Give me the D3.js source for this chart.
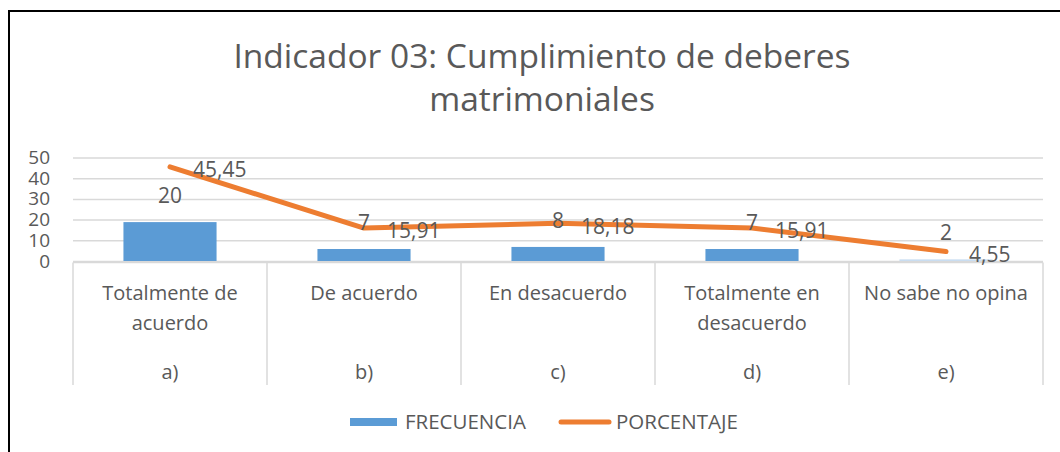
<!DOCTYPE html>
<html>
<head>
<meta charset="utf-8">
<title>Indicador 03</title>
<script src="https://cdn.jsdelivr.net/npm/d3@7"></script>
<style>
    html, body { margin: 0; padding: 0; background: #fff; }
    svg { display: block; }
    text { font-family: "Open Sans", "Noto Sans", sans-serif; fill: #595959; }
</style>
</head>
<body>
<svg id="chart" width="1060" height="452"></svg>
<script>
// chart data
var categories = ["Totalmente de acuerdo", "De acuerdo", "En desacuerdo", "Totalmente en desacuerdo", "No sabe no opina"];
var categoryLines = [["Totalmente de", "acuerdo"], ["De acuerdo"], ["En desacuerdo"], ["Totalmente en", "desacuerdo"], ["No sabe no opina"]];
var letters = ["a)", "b)", "c)", "d)", "e)"];
var frecuencia = [20, 7, 8, 7, 2];
var porcentaje = [45.45, 15.91, 18.18, 15.91, 4.55];
var percentLabels = ["45,45", "15,91", "18,18", "15,91", "4,55"];
var yTicks = [0, 10, 20, 30, 40, 50];
var titleLines = ["Indicador 03: Cumplimiento de deberes", "matrimoniales"];
var seriesNames = ["FRECUENCIA", "PORCENTAJE"];

function drawChart() {

    'use strict';

    /*global d3*/

    var svg = d3.select("#chart"),
        blue = "#5b9bd5",
        orange = "#ed7d31",
        gridColor = "#d9d9d9",
        left = 73,
        right = 1043,
        top = 157.5,
        bottom = 261,
        catBottom = 385,
        x,
        y,
        line,
        legend;

    x = d3.scaleBand().domain(categories).range([left, right]);
    y = d3.scaleLinear().domain([0, 50]).range([bottom, top]);

    // outer frame (only top and left edges are inside the picture)
    svg.append("path")
        .attr("d", "M9,452V11H1060")
        .attr("fill", "none")
        .attr("stroke", "#000")
        .attr("stroke-width", 2);

    // title
    svg.append("g").selectAll("text")
        .data(titleLines)
        .enter()
        .append("text")
        .attr("x", 542)
        .attr("y", function (d, i) { return 68 + i * 43; })
        .attr("text-anchor", "middle")
        .style("font-size", "33.5px")
        .text(function (d) { return d; });

    // horizontal gridlines and y tick labels
    svg.append("g")
        .attr("transform", "translate(" + left + ",0)")
        .call(d3.axisLeft(y).tickValues(yTicks).tickSize(-(right - left)).tickPadding(23))
        .call(function (g) {
            g.select(".domain").remove();
            g.selectAll(".tick line").attr("stroke", gridColor).attr("stroke-width", 1.5);
            g.selectAll(".tick text")
                .attr("fill", "#595959")
                .style("font-size", "19px")
                .style("font-family", "\"Open Sans\", sans-serif");
        });

    // category axis box: baseline and separators
    svg.append("line")
        .attr("x1", left).attr("x2", right)
        .attr("y1", bottom + 1.5).attr("y2", bottom + 1.5)
        .attr("stroke", gridColor).attr("stroke-width", 1.5);
    svg.append("g").selectAll("line")
        .data(categories.concat(["end"]))
        .enter()
        .append("line")
        .attr("x1", function (d, i) { return left + i * x.bandwidth(); })
        .attr("x2", function (d, i) { return left + i * x.bandwidth(); })
        .attr("y1", bottom + 1.5)
        .attr("y2", catBottom)
        .attr("stroke", gridColor)
        .attr("stroke-width", 1.5);

    // category labels
    categories.forEach(function (c, i) {
        var cx = x(c) + x.bandwidth() / 2;
        categoryLines[i].forEach(function (t, j) {
            svg.append("text")
                .attr("x", cx)
                .attr("y", 300 + j * 30)
                .attr("text-anchor", "middle")
                .style("font-size", "20px")
                .text(t);
        });
        svg.append("text")
            .attr("x", cx)
            .attr("y", 379)
            .attr("text-anchor", "middle")
            .style("font-size", "20px")
            .text(letters[i]);
    });

    // bars (their tops sit a little under the value, as in the source chart)
    svg.append("g").selectAll("rect")
        .data(frecuencia)
        .enter()
        .append("rect")
        .attr("x", function (d, i) { return x(categories[i]) + x.bandwidth() * 0.26; })
        .attr("width", x.bandwidth() * 0.48)
        .attr("y", function (d) { return y(d) + 2.5; })
        .attr("height", function (d) { return Math.max(1, bottom - y(d) - 2.5); })
        .attr("fill", function (d) { return d < 3 ? "#c9ddf1" : blue; });

    // percentage line
    line = d3.line()
        .x(function (d, i) { return x(categories[i]) + x.bandwidth() / 2; })
        .y(function (d) { return y(d); });
    svg.append("path")
        .datum(porcentaje)
        .attr("d", line)
        .attr("fill", "none")
        .attr("stroke", orange)
        .attr("stroke-width", 5)
        .attr("stroke-linejoin", "round")
        .attr("stroke-linecap", "round");

    // bar value labels
    svg.append("g").selectAll("text")
        .data(frecuencia)
        .enter()
        .append("text")
        .attr("x", function (d, i) { return x(categories[i]) + x.bandwidth() / 2; })
        .attr("y", function (d) { return y(d) - 24; })
        .attr("dy", "0.35em")
        .attr("text-anchor", "middle")
        .style("font-size", "21px")
        .text(function (d) { return d; });

    // percentage value labels
    svg.append("g").selectAll("text")
        .data(porcentaje)
        .enter()
        .append("text")
        .attr("x", function (d, i) { return x(categories[i]) + x.bandwidth() / 2 + 23; })
        .attr("y", function (d) { return y(d) + 3; })
        .attr("dy", "0.35em")
        .style("font-size", "21px")
        .text(function (d, i) { return percentLabels[i]; });

    // legend
    legend = svg.append("g").attr("transform", "translate(0,422)");
    legend.append("rect")
        .attr("x", 350).attr("y", -4)
        .attr("width", 47).attr("height", 8)
        .attr("fill", blue);
    legend.append("text")
        .attr("x", 405).attr("dy", "0.35em")
        .style("font-size", "20.5px")
        .text(seriesNames[0]);
    legend.append("line")
        .attr("x1", 561).attr("x2", 609)
        .attr("stroke", orange)
        .attr("stroke-width", 5)
        .attr("stroke-linecap", "round");
    legend.append("text")
        .attr("x", 616).attr("dy", "0.35em")
        .style("font-size", "20.5px")
        .text(seriesNames[1]);
}

drawChart();
</script>
</body>
</html>
